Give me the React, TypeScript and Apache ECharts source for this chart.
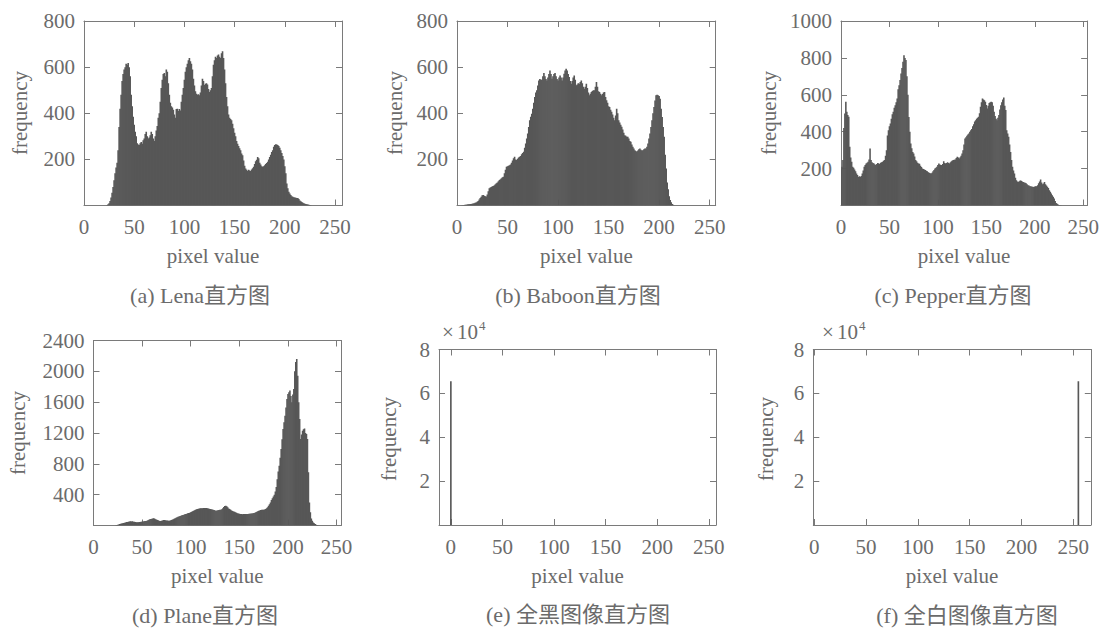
import React, { useEffect, useRef } from "react";
import * as echarts from "echarts";

// ---------- data ----------
const tickValues = [0, 50, 100, 150, 200, 250];

// Lena: frequency per pixel value, starting at pixel value lenaStart
const lenaStart = 23;
const lenaFreq = [
  2, 5, 10, 20, 35, 55, 80, 110, 140, 165,
  185, 240, 340, 420, 480, 540, 570, 590, 600, 615,
  610, 618, 600, 560, 480, 430, 385, 350, 320, 300,
  270, 265, 262, 270, 275, 268, 283, 290, 310, 320,
  300, 290, 295, 305, 320, 310, 290, 280, 300, 325,
  345, 380, 400, 450, 510, 545, 570, 575, 560, 590,
  580, 530, 480, 445, 430, 425, 415, 395, 380, 418,
  420, 410, 418, 412, 450, 480, 510, 545, 580, 600,
  615, 630, 640, 625, 615, 590, 550, 520, 495, 485,
  480, 482, 478, 490, 520, 550, 540, 522, 528, 530,
  525, 505, 492, 500, 510, 560, 610, 630, 645, 640,
  650, 655, 645, 640, 660, 669, 640, 590, 530, 470,
  430, 395, 380, 375, 370, 355, 335, 315, 300, 280,
  268, 258, 248, 240, 225, 218, 195, 172, 160, 155,
  150, 155, 152, 150, 156, 162, 168, 180, 192, 198,
  210, 205, 185, 178, 170, 168, 170, 175, 180, 184,
  190, 200, 210, 220, 232, 240, 255, 262, 266, 264,
  262, 258, 250, 240, 228, 215, 200, 170, 140, 95,
  75, 60, 52, 45, 40, 38, 36, 35, 34, 33,
  32, 28, 22, 18, 15, 12, 10, 8, 6, 5,
  4, 3, 2, 1,
];

const baboonStart = 5;
const baboonFreq = [
  1, 1, 2, 3, 3, 4, 5, 5, 6, 7,
  8, 9, 10, 12, 13, 16, 20, 26, 32, 38,
  44, 46, 42, 40, 39, 48, 62, 75, 78, 80,
  84, 85, 88, 92, 96, 100, 105, 111, 114, 118,
  122, 125, 140, 155, 168, 170, 172, 175, 178, 185,
  195, 205, 211, 200, 197, 203, 208, 211, 215, 222,
  228, 233, 250, 269, 290, 312, 340, 370, 385, 398,
  420, 445, 470, 490, 500, 520, 542, 548, 545, 545,
  560, 574, 560, 548, 542, 555, 570, 585, 570, 550,
  560, 570, 574, 560, 548, 542, 555, 564, 555, 542,
  555, 571, 585, 593, 585, 570, 557, 540, 528, 540,
  555, 564, 545, 521, 525, 530, 528, 535, 542, 530,
  515, 506, 515, 528, 510, 490, 478, 485, 492, 496,
  500, 500, 515, 535, 515, 495, 492, 485, 478, 484,
  490, 492, 470, 456, 445, 430, 427, 415, 406, 395,
  380, 370, 390, 420, 400, 370, 360, 350, 341, 330,
  315, 305, 302, 298, 298, 290, 280, 276, 265, 255,
  247, 240, 236, 233, 238, 244, 247, 242, 238, 240,
  244, 247, 247, 255, 269, 290, 312, 340, 370, 400,
  427, 455, 478, 480, 478, 475, 463, 420, 384, 340,
  298, 220, 160, 100, 70, 40, 24, 14, 7, 3,
  1,
];

const pepperStart = 0;
const pepperFreq = [
  200, 210, 246, 420, 499, 562, 508, 490, 481, 318,
  260, 237, 210, 205, 195, 185, 173, 165, 155, 158,
  155, 160, 173, 190, 210, 220, 228, 232, 237, 250,
  309, 246, 235, 230, 228, 222, 219, 225, 230, 228,
  225, 232, 235, 237, 242, 246, 270, 300, 380, 408,
  430, 444, 470, 495, 508, 530, 544, 560, 580, 630,
  652, 680, 715, 745, 779, 815, 800, 788, 700, 600,
  480, 400, 336, 310, 290, 282, 265, 246, 240, 232,
  228, 226, 215, 208, 201, 198, 195, 192, 188, 185,
  180, 177, 175, 173, 178, 185, 192, 200, 205, 210,
  220, 228, 222, 220, 219, 225, 240, 231, 228, 231,
  235, 230, 228, 235, 240, 244, 246, 248, 250, 258,
  264, 260, 255, 262, 270, 282, 300, 330, 363, 370,
  378, 385, 390, 400, 408, 415, 430, 440, 455, 462,
  470, 475, 481, 500, 535, 560, 580, 575, 570, 562,
  545, 526, 540, 556, 560, 562, 560, 540, 508, 485,
  470, 462, 475, 490, 520, 544, 560, 575, 585, 540,
  517, 408, 390, 372, 330, 290, 246, 210, 190, 173,
  150, 137, 130, 128, 132, 135, 134, 130, 128, 125,
  123, 120, 115, 110, 108, 105, 104, 102, 101, 100,
  103, 105, 105, 110, 120, 130, 141, 125, 115, 119,
  128, 115, 108, 101, 95, 83, 75, 65, 55, 47,
  38, 25, 14, 10, 6, 3, 2, 1,
];

const planeStart = 23;
const planeFreq = [
  3, 6, 10, 14, 18, 22, 26, 30, 32, 35,
  40, 44, 46, 50, 52, 54, 53, 54, 50, 48,
  45, 42, 41, 43, 45, 47, 48, 50, 52, 55,
  58, 60, 63, 68, 74, 80, 84, 88, 92, 93,
  88, 82, 76, 70, 65, 60, 58, 62, 66, 70,
  71, 68, 66, 64, 63, 63, 66, 70, 76, 82,
  88, 95, 100, 106, 112, 118, 123, 128, 132, 137,
  141, 145, 149, 154, 158, 163, 167, 171, 178, 185,
  192, 198, 205, 210, 214, 218, 221, 223, 224, 225,
  226, 227, 227, 226, 224, 222, 218, 215, 212, 208,
  204, 200, 196, 192, 194, 197, 200, 203, 205, 212,
  225, 240, 252, 257, 250, 238, 222, 214, 205, 196,
  188, 182, 178, 172, 166, 160, 155, 152, 149, 148,
  147, 148, 149, 150, 149, 148, 149, 151, 153, 155,
  157, 160, 162, 166, 172, 178, 185, 192, 196, 200,
  203, 205, 205, 208, 215, 225, 236, 255, 275, 300,
  330, 355, 375, 400, 440, 500, 600, 700, 776, 880,
  992, 1120, 1252, 1340, 1425, 1530, 1641, 1706, 1730, 1750,
  1680, 1598, 1700, 1771, 2000, 2120, 2160, 1944, 1600, 1382,
  1122, 1180, 1230, 1250, 1260, 1200, 1187, 1122, 690, 300,
  171, 90, 63, 40, 28, 18, 10, 6, 3, 1,
];

const blackPixels = [0];
const blackFreq = [65536];
const whitePixels = [255];
const whiteFreq = [65536];

const captions = [
  "(a) Lena直方图",
  "(b) Baboon直方图",
  "(c) Pepper直方图",
  "(d) Plane直方图",
  "(e) 全黑图像直方图",
  "(f) 全白图像直方图",
];
const xName = "pixel value";
const yName = "frequency";

// ---------- styling ----------
const TEXT = "#6b6b6b";
const FRAME = "#7a7a7a";
const BAR = "#575757";
const SERIF = "'Liberation Serif', 'Times New Roman', serif";
const CAPFONT = "'Liberation Serif', 'Noto Sans CJK SC', serif";

const seq = (start: number, freq: number[]) => freq.map((f, i) => [start + i, f]);
const pairs = (px: number[], freq: number[]) => px.map((p, i) => [p, freq[i]]);

const panels = [
  { data: seq(lenaStart, lenaFreq), xMin: 0, xMax: 257, yMax: 800, yStep: 200, scale: 1,
    grid: { left: 84, top: 21, width: 258, height: 184.5 }, yNamePos: [20, 113], cap: [200, 295] },
  { data: seq(baboonStart, baboonFreq), xMin: 0, xMax: 256, yMax: 800, yStep: 200, scale: 1,
    grid: { left: 457, top: 21, width: 258.7, height: 184.5 }, yNamePos: [395, 113], cap: [578, 295] },
  { data: seq(pepperStart, pepperFreq), xMin: 0, xMax: 254, yMax: 1000, yStep: 200, scale: 1,
    grid: { left: 841, top: 21, width: 248, height: 184.5 }, yNamePos: [769, 113], cap: [953, 295] },
  { data: seq(planeStart, planeFreq), xMin: 0, xMax: 254.5, yMax: 2400, yStep: 400, scale: 1,
    grid: { left: 93.5, top: 340.5, width: 247.5, height: 185 }, yNamePos: [18, 433], cap: [205, 615] },
  { data: pairs(blackPixels, blackFreq), xMin: -11.5, xMax: 257, yMax: 80000, yStep: 20000, scale: 10000,
    grid: { left: 439, top: 349.5, width: 277, height: 175.5 }, yNamePos: [389, 439], cap: [578, 614], exp: 442 },
  { data: pairs(whitePixels, whiteFreq), xMin: -1, xMax: 267, yMax: 80000, yStep: 20000, scale: 10000,
    grid: { left: 813.3, top: 349.5, width: 277.5, height: 175.5 }, yNamePos: [766, 439], cap: [967, 615], exp: 822 },
];

const mkLine = () => ({ show: true, onZero: false, lineStyle: { color: FRAME, width: 1 } });
const mkTick = (custom?: number[]) => {
  const t: any = { show: true, inside: true, length: 6, lineStyle: { color: FRAME } };
  if (custom) t.customValues = custom.slice();
  return t;
};

export default function App() {
  const ref = useRef<HTMLDivElement>(null);
  useEffect(() => {
    if (!ref.current) return;
    const chart = echarts.init(ref.current, undefined, { renderer: "svg" });
    const grids: any[] = [];
    const xAxes: any[] = [];
    const yAxes: any[] = [];
    const series: any[] = [];
    const graphics: any[] = [];
    const labelStyle = () => ({ color: TEXT, fontSize: 21, fontFamily: SERIF });
    panels.forEach((p, i) => {
      grids.push({ ...p.grid });
      xAxes.push({
        gridIndex: i, type: "value", min: p.xMin, max: p.xMax, position: "bottom",
        axisLine: mkLine(), axisTick: mkTick(tickValues),
        axisLabel: { ...labelStyle(), margin: 11, customValues: tickValues.slice() },
        splitLine: { show: false },
        name: xName, nameLocation: "middle", nameGap: 40,
        nameTextStyle: labelStyle(),
      });
      // mirrored top axis: auto ticks (nice step of 50), no labels
      xAxes.push({
        gridIndex: i, type: "value", min: p.xMin, max: p.xMax, position: "top",
        axisLine: mkLine(), axisTick: mkTick(),
        axisLabel: { show: false }, splitLine: { show: false },
      });
      const scale = p.scale;
      yAxes.push({
        gridIndex: i, type: "value", min: 0, max: p.yMax, interval: p.yStep, position: "left",
        axisLine: mkLine(), axisTick: mkTick(),
        axisLabel: { ...labelStyle(), margin: 9, formatter: (v: number) => (v === 0 ? "" : String(v / scale)) },
        splitLine: { show: false },
      });
      yAxes.push({
        gridIndex: i, type: "value", min: 0, max: p.yMax, interval: p.yStep, position: "right",
        axisLine: mkLine(), axisTick: mkTick(), axisLabel: { show: false }, splitLine: { show: false },
      });
      series.push({
        type: "custom", xAxisIndex: 2 * i, yAxisIndex: 2 * i, clip: true,
        encode: { x: 0, y: 1 },
        data: p.data,
        renderItem: (params: any, api: any) => {
          const x = api.value(0);
          const y = api.value(1);
          const p0 = api.coord([x - 0.5, 0]);
          const p1 = api.coord([x + 0.5, y]);
          return {
            type: "rect",
            shape: { x: p0[0] - 0.3, y: p1[1], width: p1[0] - p0[0] + 0.6, height: p0[1] - p1[1] },
            style: { fill: BAR },
          };
        },
      });
      graphics.push({
        type: "text", x: p.yNamePos[0], y: p.yNamePos[1], rotation: Math.PI / 2,
        style: { text: yName, fill: TEXT, font: `21px ${SERIF}`, textAlign: "center", textVerticalAlign: "middle" },
      });
      graphics.push({
        type: "text", x: p.cap[0], y: p.cap[1],
        style: { text: captions[i], fill: TEXT, font: `22px ${CAPFONT}`, textAlign: "center", textVerticalAlign: "middle" },
      });
      if ((p as any).exp !== undefined) {
        const ex = (p as any).exp;
        graphics.push({
          type: "text", x: ex, y: 332,
          style: { text: "×", fill: TEXT, font: `21px ${SERIF}`, textAlign: "left", textVerticalAlign: "middle" },
        });
        graphics.push({
          type: "text", x: ex + 15, y: 332,
          style: { text: "10", fill: TEXT, font: `21px ${SERIF}`, textAlign: "left", textVerticalAlign: "middle" },
        });
        graphics.push({
          type: "text", x: ex + 37, y: 325,
          style: { text: "4", fill: TEXT, font: `13px ${SERIF}`, textAlign: "left", textVerticalAlign: "middle" },
        });
      }
    });
    chart.setOption({
      animation: false,
      grid: grids,
      xAxis: xAxes,
      yAxis: yAxes,
      series,
      graphic: graphics,
    });
    return () => chart.dispose();
  }, []);
  return <div ref={ref} style={{ position: "absolute", left: 0, top: 0, width: 1102, height: 630 }} />;
}
